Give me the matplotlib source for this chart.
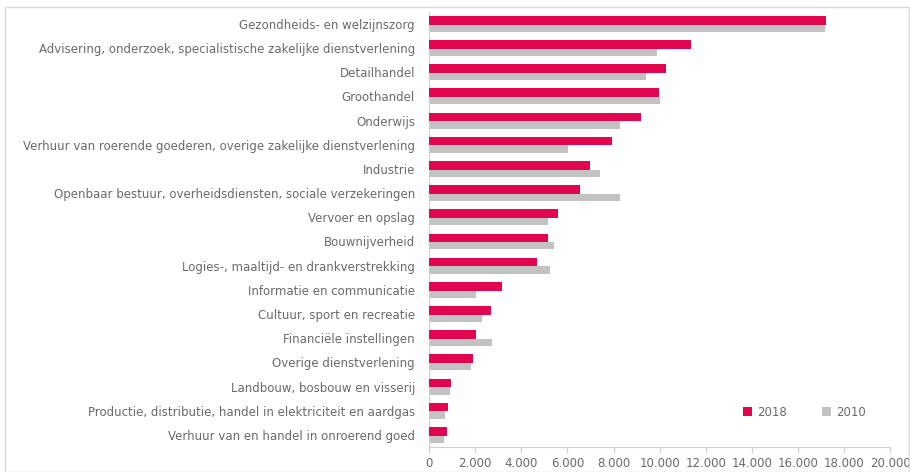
import matplotlib.pyplot as plt
from matplotlib.patches import Rectangle
from matplotlib.ticker import FuncFormatter
import numpy as np

sectors = [
    "Gezondheids- en welzijnszorg",
    "Advisering, onderzoek, specialistische zakelijke dienstverlening",
    "Detailhandel",
    "Groothandel",
    "Onderwijs",
    "Verhuur van roerende goederen, overige zakelijke dienstverlening",
    "Industrie",
    "Openbaar bestuur, overheidsdiensten, sociale verzekeringen",
    "Vervoer en opslag",
    "Bouwnijverheid",
    "Logies-, maaltijd- en drankverstrekking",
    "Informatie en communicatie",
    "Cultuur, sport en recreatie",
    "Financiële instellingen",
    "Overige dienstverlening",
    "Landbouw, bosbouw en visserij",
    "Productie, distributie, handel in elektriciteit en aardgas",
    "Verhuur van en handel in onroerend goed",
]
values_2018 = [17200, 11350, 10270, 9960, 9200, 7950, 6980, 6550, 5600,
               5150, 4670, 3150, 2680, 2040, 1920, 940, 810, 770]
values_2010 = [17150, 9880, 9400, 10010, 8290, 6040, 7420, 8290, 5180,
               5420, 5250, 2040, 2290, 2720, 1810, 920, 690, 650]

red = "#E2054F"
grey = "#C2C2C2"
text_grey = "#6A6A6A"

fig = plt.figure(figsize=(9.1, 4.72), dpi=100)
fig.patches.append(Rectangle((0.006, 0.0), 0.993, 0.985, transform=fig.transFigure,
                             fill=False, edgecolor="#D9D9D9", linewidth=1))
ax = fig.add_axes([0.4714, 0.053, 0.507, 0.922])

y = np.arange(len(sectors))
ax.barh(y - 0.15, values_2018, height=0.36, color=red, label="2018", zorder=3)
ax.barh(y + 0.18, values_2010, height=0.3, color=grey, label="2010", zorder=2)

ax.set_ylim(len(sectors) - 0.5, -0.5)
ax.set_xlim(0, 20000)
ax.set_yticks(y)
ax.set_yticklabels(sectors, fontsize=8.5, color=text_grey)
ax.set_xticks(range(0, 20001, 2000))
ax.xaxis.set_major_formatter(FuncFormatter(lambda v, p: f"{int(v):,}".replace(",", ".")))
ax.tick_params(axis="x", labelsize=8.5, labelcolor=text_grey, color="#D0D0D0", length=4)
ax.tick_params(axis="y", length=0, pad=10)

for side in ["top", "right"]:
    ax.spines[side].set_visible(False)
ax.spines["left"].set_color("#D0D0D0")
ax.spines["bottom"].set_color("#D0D0D0")

ax.legend(loc="lower right", bbox_to_anchor=(0.97, 0.04), ncol=2, frameon=False,
          fontsize=8.5, labelcolor=text_grey, handlelength=0.8, handleheight=0.8,
          columnspacing=3, handletextpad=0.4)

plt.savefig("out.png")
